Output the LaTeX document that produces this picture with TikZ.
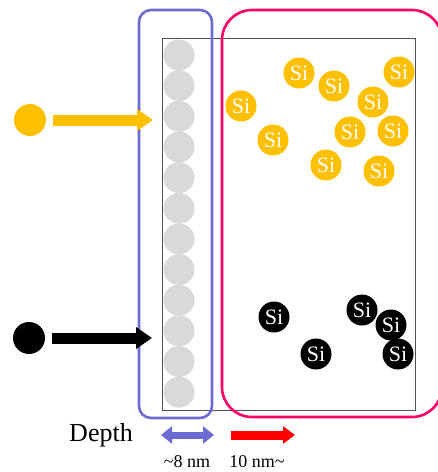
\documentclass[tikz,border=0pt]{standalone}
\usepackage{fontspec}
\setmainfont{Liberation Serif}
\usetikzlibrary{arrows.meta}
\definecolor{gold}{HTML}{FFC000}
\definecolor{boxblue}{HTML}{6B6BD2}
\definecolor{boxmag}{HTML}{FF0066}
\definecolor{atomgray}{HTML}{D9D9D9}
\definecolor{frame}{HTML}{505050}
\tikzset{
  ysi/.style={circle,fill=gold,minimum size=31pt,inner sep=0pt,text=white,font=\fontsize{22}{22}\selectfont},
  bsi/.style={circle,fill=black,minimum size=31pt,inner sep=0pt,text=white,font=\fontsize{22}{22}\selectfont},
  gatom/.style={circle,fill=atomgray,minimum size=31pt,inner sep=0pt},
  dot/.style={circle,minimum size=32pt,inner sep=0pt},
  lbl/.style={inner sep=0pt,font=\fontsize{18}{18}\selectfont}
}
\begin{document}
\begin{tikzpicture}[x=1pt,y=-1pt]
\useasboundingbox (0,0) rectangle (438,472);
% gray surface atoms
\foreach \i in {0,...,11} {
  \node[gatom] (g\i) at (179,{55+\i*30.65}) {};
}
% sample frame
\draw[frame,line width=0.8pt] (162,38) rectangle (415,410);
% boxes
\draw[boxblue,line width=2.6pt,rounded corners=12pt] (139,10) rectangle (212,418);
\draw[boxmag,line width=2.6pt,rounded corners=30pt] (222,10) rectangle (442,417);
% incoming particles
\node[dot,fill=gold] (yd) at (30,120) {};
\node[dot,fill=black] (bd) at (29,338) {};
\coordinate (ys) at (53,120);
\coordinate (ye) at (153,120);
\coordinate (bs) at (52,338);
\coordinate (be) at (152,338);
\draw[gold,line width=11pt,-{Triangle[length=16pt,width=21pt]}] (ys) -- (ye);
\draw[black,line width=11pt,-{Triangle[length=16pt,width=21pt]}] (bs) -- (be);
% yellow Si
\node[ysi] (y1) at (299,73) {Si};
\node[ysi] (y2) at (334,86) {Si};
\node[ysi] (y3) at (399,72) {Si};
\node[ysi] (y4) at (241,106) {Si};
\node[ysi] (y5) at (373,102) {Si};
\node[ysi] (y6) at (273,140) {Si};
\node[ysi] (y7) at (350,132) {Si};
\node[ysi] (y8) at (393,131) {Si};
\node[ysi] (y9) at (326,165) {Si};
\node[ysi] (y10) at (379,171) {Si};
% black Si
\node[bsi] (b1) at (274,317) {Si};
\node[bsi] (b2) at (362,310) {Si};
\node[bsi] (b3) at (391,325) {Si};
\node[bsi] (b4) at (316,354) {Si};
\node[bsi] (b5) at (398,354) {Si};
% depth legend
\node[inner sep=0pt,font=\fontsize{26}{26}\selectfont] (depth) at (101,435) {Depth};
\coordinate (d1) at (161,435);
\coordinate (d2) at (214,435);
\coordinate (r1) at (231,435);
\coordinate (r2) at (295,435);
\draw[boxblue,line width=7pt,{Triangle[length=11pt,width=17pt]}-{Triangle[length=11pt,width=17pt]}] (d1) -- (d2);
\draw[red,line width=9pt,-{Triangle[length=12pt,width=17pt]}] (r1) -- (r2);
\node[lbl] (l1) at (187,462) {\textasciitilde 8 nm};
\node[lbl] (l2) at (257,462) {10 nm\textasciitilde};
\end{tikzpicture}
\end{document}
